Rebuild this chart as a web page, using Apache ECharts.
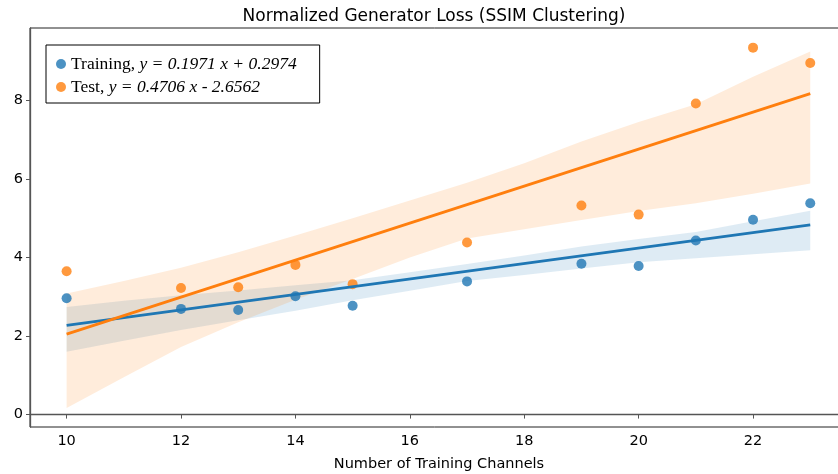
<!DOCTYPE html>
<html>
<head>
<meta charset="utf-8">
<script src="https://cdn.jsdelivr.net/npm/echarts@6/dist/echarts.min.js"></script>
<style>
html,body{margin:0;padding:0;background:#fff;}
#chart{width:838px;height:474px;}
</style>
</head>
<body>
<div id="chart"></div>
<script>
// scatter points
var channels = [10, 12, 13, 14, 15, 17, 19, 20, 21, 22, 23];
var trainLoss = [2.96, 2.69, 2.66, 3.01, 2.77, 3.39, 3.84, 3.78, 4.43, 4.96, 5.38];
var testLoss = [3.65, 3.22, 3.24, 3.81, 3.32, 4.38, 5.32, 5.09, 7.92, 9.34, 8.95];

// fitted lines (from the legend equations)
var fitX = [10, 23];
var trainFit = [2.268, 4.831];
var testFit = [2.050, 8.168];

// confidence bands
var bandX = [10, 11, 12, 13, 14, 15, 16, 17, 18, 19, 20, 21, 22, 23];
var trainLow = [1.60, 1.88, 2.15, 2.40, 2.64, 2.91, 3.15, 3.40, 3.55, 3.72, 3.88, 3.98, 4.08, 4.18];
var trainHigh = [2.74, 2.90, 3.04, 3.16, 3.29, 3.42, 3.62, 3.83, 4.05, 4.28, 4.47, 4.65, 4.92, 5.19];
var testLow = [0.17, 0.95, 1.72, 2.35, 2.92, 3.45, 4.00, 4.48, 4.72, 4.95, 5.18, 5.38, 5.62, 5.88];
var testHigh = [3.08, 3.40, 3.74, 4.13, 4.56, 5.00, 5.45, 5.90, 6.40, 6.95, 7.45, 7.90, 8.60, 9.24];

var xTicks = [10, 12, 14, 16, 18, 20, 22];
var yTicks = [0, 2, 4, 6, 8];

var blue = '#1f77b4', orange = '#ff7f0e';
var equations = {
	'Training': 'y = 0.1971 x + 0.2974',
	'Test': 'y = 0.4706 x - 2.6562'
};

function pairs(xs, ys){
	var out = [];
	for(var i=0;i<xs.length;i++){
		out.push([xs[i], ys[i]]);
	}
	return out;
}
// band polygon: lower edge left->right, upper edge right->left
function band(name, color, lo, hi){
	return {
		name: name,
		type: 'custom',
		silent: true,
		data: [0],
		renderItem: function(params, api){
			var pts = [];
			for(var i=0;i<bandX.length;i++){
				pts.push(api.coord([bandX[i], lo[i]]));
			}
			for(var j=bandX.length-1;j>=0;j--){
				pts.push(api.coord([bandX[j], hi[j]]));
			}
			return {
				type: 'polygon',
				shape: {points: pts},
				style: {fill: color, opacity: 0.15}
			};
		}
	};
}
function fit(name, color, ys){
	return {
		name: name + 'Fit',
		type: 'line',
		data: pairs(fitX, ys),
		symbol: 'none',
		lineStyle: {color: color, width: 2.8},
		silent: true
	};
}
function points(name, color, ys){
	return {
		name: name,
		type: 'scatter',
		data: pairs(channels, ys),
		symbolSize: 10,
		itemStyle: {color: color, opacity: 0.8}
	};
}

var myChart = echarts.init(document.getElementById('chart'));
var option = {
	animation: false,
	title: {
		text: 'Normalized Generator Loss (SSIM Clustering)',
		left: 429,
		top: 3,
		textAlign: 'center',
		textStyle: {fontFamily: 'DejaVu Sans', fontSize: 17, fontWeight: 'normal', color: '#000'}
	},
	legend: {
		data: ['Training', 'Test'],
		orient: 'vertical',
		left: 46,
		top: 45,
		padding: [10, 23, 7, 10],
		itemGap: 5,
		itemWidth: 10,
		itemHeight: 10,
		icon: 'circle',
		borderColor: '#000',
		borderWidth: 1,
		borderRadius: 0,
		backgroundColor: '#fff',
		formatter: function(name){
			return '{n|' + name + ', }{i|' + equations[name] + '}';
		},
		textStyle: {
			rich: {
				n: {fontFamily: 'Liberation Serif', fontSize: 17.5, color: '#000'},
				i: {fontFamily: 'Liberation Serif', fontSize: 17.5, fontStyle: 'italic', color: '#000'}
			}
		}
	},
	grid: {
		left: 30,
		right: -10,
		top: 28,
		bottom: 47,
		outerBoundsMode: 'none',
		show: true,
		borderColor: '#222',
		borderWidth: 1
	},
	xAxis: {
		type: 'value',
		min: 9.36,
		max: 23.66,
		name: 'Number of Training Channels',
		nameLocation: 'middle',
		nameGap: 30,
		nameTextStyle: {fontFamily: 'DejaVu Sans', fontSize: 14.5, color: '#000'},
		splitLine: {show: false},
		axisLine: {lineStyle: {color: '#555', width: 1.3}},
		axisTick: {show: true, length: 4, customValues: xTicks, lineStyle: {color: '#555'}},
		axisLabel: {customValues: xTicks, fontFamily: 'DejaVu Sans', fontSize: 14.5, color: '#000', margin: 7}
	},
	yAxis: {
		type: 'value',
		min: -0.316,
		max: 9.84,
		splitLine: {show: false},
		axisLine: {show: true, lineStyle: {color: '#555', width: 1.3}},
		axisTick: {show: true, length: 4, customValues: yTicks, lineStyle: {color: '#555'}},
		axisLabel: {customValues: yTicks, fontFamily: 'DejaVu Sans', fontSize: 14.5, color: '#000', margin: 7}
	},
	series: [
		points('Training', blue, trainLoss),
		fit('Training', blue, trainFit),
		band('trainBand', blue, trainLow, trainHigh),
		points('Test', orange, testLoss),
		fit('Test', orange, testFit),
		band('testBand', orange, testLow, testHigh)
	]
};
myChart.setOption(option);
</script>
</body>
</html>
